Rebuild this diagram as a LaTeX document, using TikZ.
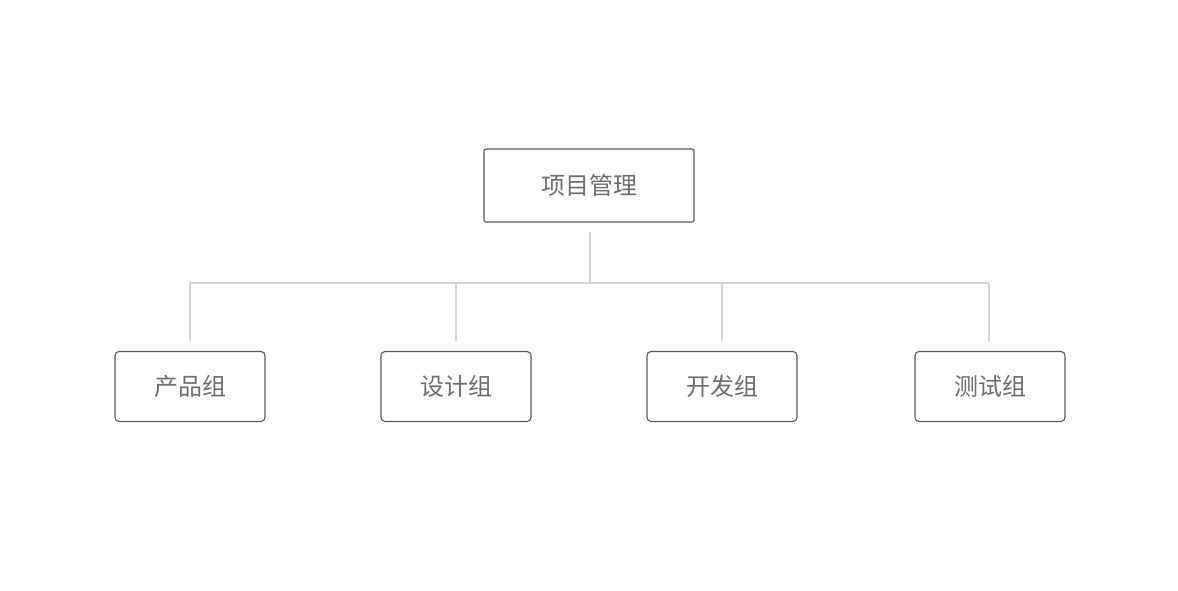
\documentclass[tikz,border=0pt]{standalone}
\usepackage{fontspec}
\newfontfamily\cjk{Noto Sans CJK SC}
\definecolor{boxline}{HTML}{5A5A5A}
\definecolor{txt}{HTML}{6E6E6E}
\definecolor{conn}{HTML}{D6D6D6}
\begin{document}
\begin{tikzpicture}[x=1pt,y=-1pt,
  topbox/.style={draw=boxline,line width=1.1pt,rounded corners=2pt,minimum width=210pt,minimum height=73pt,inner sep=0pt,text=txt,font=\cjk\fontsize{24}{24}\selectfont},
  groupbox/.style={draw=boxline,line width=1.1pt,rounded corners=4pt,minimum width=150pt,minimum height=70pt,inner sep=0pt,text=txt,font=\cjk\fontsize{24}{24}\selectfont},
  link/.style={draw=conn,line width=2pt}]
\useasboundingbox[fill=white] (0,0) rectangle (1178,590);
\node[topbox] (root) at (589,185.5) {项目管理};
\node[groupbox] (g1) at (190,386.5) {产品组};
\node[groupbox] (g2) at (456,386.5) {设计组};
\node[groupbox] (g3) at (722,386.5) {开发组};
\node[groupbox] (g4) at (990,386.5) {测试组};
\coordinate (rs) at (590,232);
\coordinate (bus) at (590,283);
\coordinate (h1) at (190,283);
\coordinate (h4) at (989,283);
\coordinate (e1) at (190,341);
\coordinate (t2) at (456,283);
\coordinate (e2) at (456,341);
\coordinate (t3) at (722,283);
\coordinate (e3) at (722,341);
\coordinate (e4) at (989,341);
\draw[link] (rs) -- (bus);
\draw[link] (e1) -- (h1) -- (h4) -- (e4);
\draw[link] (t2) -- (e2);
\draw[link] (t3) -- (e3);
\end{tikzpicture}
\end{document}
